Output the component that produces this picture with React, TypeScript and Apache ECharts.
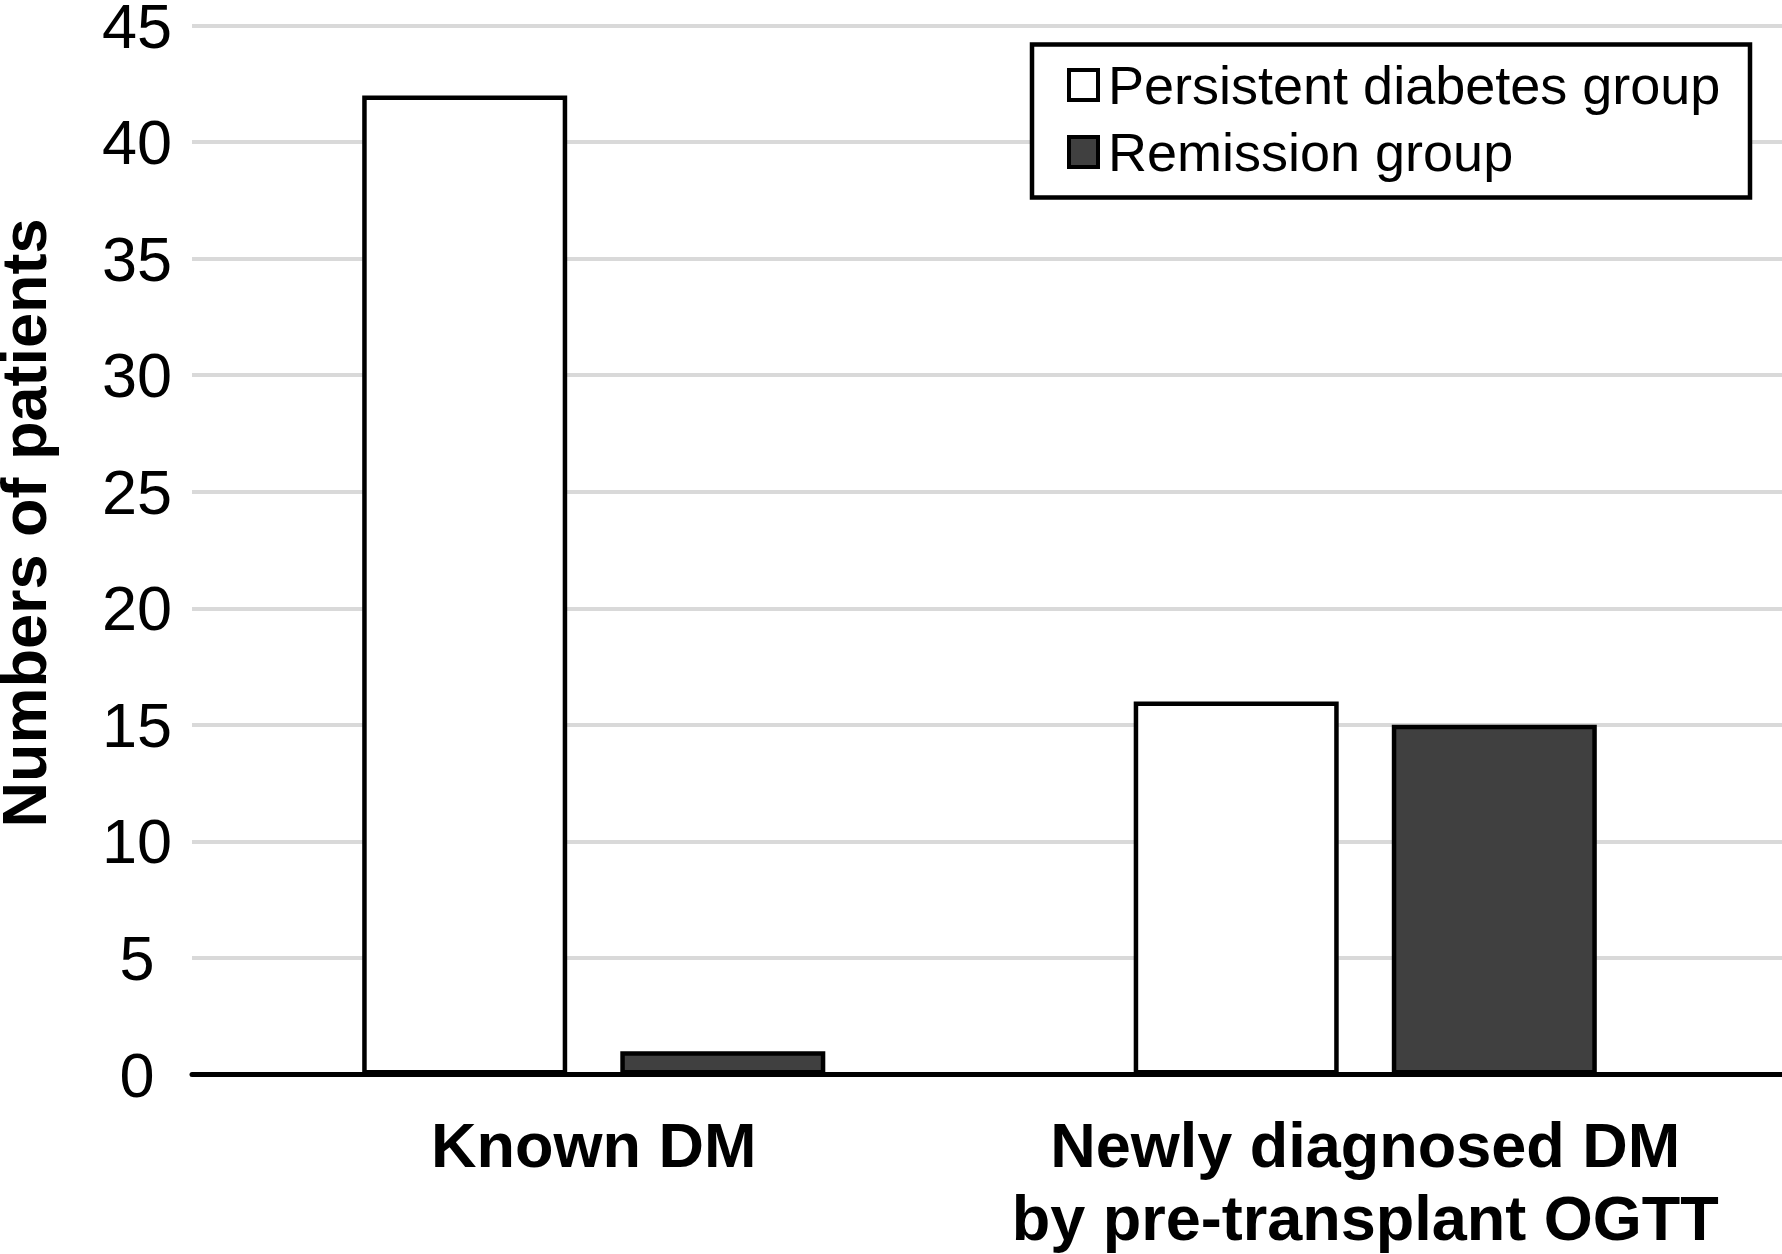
import React, { useEffect, useRef } from "react";
import * as echarts from "echarts";

const categories = ["Known DM", "Newly diagnosed DM\nby pre-transplant OGTT"];
const seriesNames = ["Persistent diabetes group", "Remission group"];
const persistent = [42, 16];
const remission = [1, 15];
const yMin = 0;
const yMax = 45;
const yStep = 5;

const FONT = '"Liberation Sans", Arial, Helvetica, sans-serif';

export default function App() {
  const ref = useRef<HTMLDivElement>(null);
  useEffect(() => {
    if (!ref.current) return;
    const chart = echarts.init(ref.current, null, { renderer: "svg" });
    const gridTop = 25.5;
    const gridBottom = 179.5;
    chart.setOption({
      animation: false,
      backgroundColor: "#ffffff",
      textStyle: { fontFamily: FONT },
      grid: [
        { left: 192, right: 0, top: gridTop, bottom: gridBottom, containLabel: false, outerBoundsMode: "none" },
        { left: 208, right: 31, top: gridTop, bottom: gridBottom, containLabel: false, outerBoundsMode: "none" },
      ],
      legend: {
        data: [
          { name: seriesNames[0], itemStyle: { color: "#ffffff", borderColor: "#000000", borderWidth: 4 } },
          { name: seriesNames[1], itemStyle: { color: "#404040", borderColor: "#000000", borderWidth: 4 } },
        ],
        orient: "vertical",
        left: 1067,
        top: 55,
        padding: 0,
        itemGap: 7,
        itemWidth: 29,
        itemHeight: 30,
        icon: "rect",
        z: 10,
        selectedMode: false,
        textStyle: {
          fontFamily: FONT,
          fontSize: 54,
          color: "#000000",
          lineHeight: 60,
          padding: [0, 0, 0, 5],
        },
      },
      graphic: [
        {
          type: "rect",
          z: 5,
          shape: { x: 1032, y: 44.5, width: 718, height: 153 },
          style: { fill: "#ffffff", stroke: "#000000", lineWidth: 4.5 },
        },
      ],
      xAxis: [
        {
          gridIndex: 0,
          type: "category",
          data: categories,
          axisLine: { show: true, lineStyle: { color: "#000000", width: 5 } },
          axisTick: { show: false },
          axisLabel: { show: false },
          splitLine: { show: false },
        },
        {
          gridIndex: 1,
          type: "category",
          data: categories,
          axisLine: { show: false },
          axisTick: { show: false },
          axisLabel: {
            interval: 0,
            fontFamily: FONT,
            fontSize: 63,
            fontWeight: "bold",
            color: "#000000",
            lineHeight: 73,
            margin: 34,
          },
          splitLine: { show: false },
        },
      ],
      yAxis: [
        {
          gridIndex: 0,
          type: "value",
          min: yMin,
          max: yMax,
          interval: yStep,
          axisLine: { show: false },
          axisTick: { show: false },
          axisLabel: {
            fontFamily: FONT,
            fontSize: 63,
            color: "#000000",
            margin: 55,
            align: "center",
            lineHeight: 44,
          },
          splitLine: { show: true, lineStyle: { color: "#d9d9d9", width: 4 } },
          name: "Numbers of patients",
          nameLocation: "middle",
          nameGap: 145,
          nameTextStyle: {
            fontFamily: FONT,
            fontSize: 63,
            fontWeight: "bold",
            color: "#000000",
            lineHeight: 46,
            padding: [0, 0, 0, 54],
          },
        },
        {
          gridIndex: 1,
          type: "value",
          min: yMin,
          max: yMax,
          interval: yStep,
          show: false,
          splitLine: { show: false },
        },
      ],
      series: [
        {
          name: seriesNames[0],
          type: "bar",
          xAxisIndex: 1,
          yAxisIndex: 1,
          data: persistent,
          barWidth: 205,
          barGap: "25.9%",
          itemStyle: { color: "#ffffff", borderColor: "#000000", borderWidth: 4.5 },
        },
        {
          name: seriesNames[1],
          type: "bar",
          xAxisIndex: 1,
          yAxisIndex: 1,
          data: remission,
          barWidth: 205,
          barGap: "25.9%",
          itemStyle: { color: "#404040", borderColor: "#000000", borderWidth: 4.5 },
        },
      ],
    });
    return () => chart.dispose();
  }, []);
  return (
    <div
      ref={ref}
      style={{ position: "fixed", left: 0, top: 0, width: 1782, height: 1254, background: "#fff" }}
    />
  );
}
